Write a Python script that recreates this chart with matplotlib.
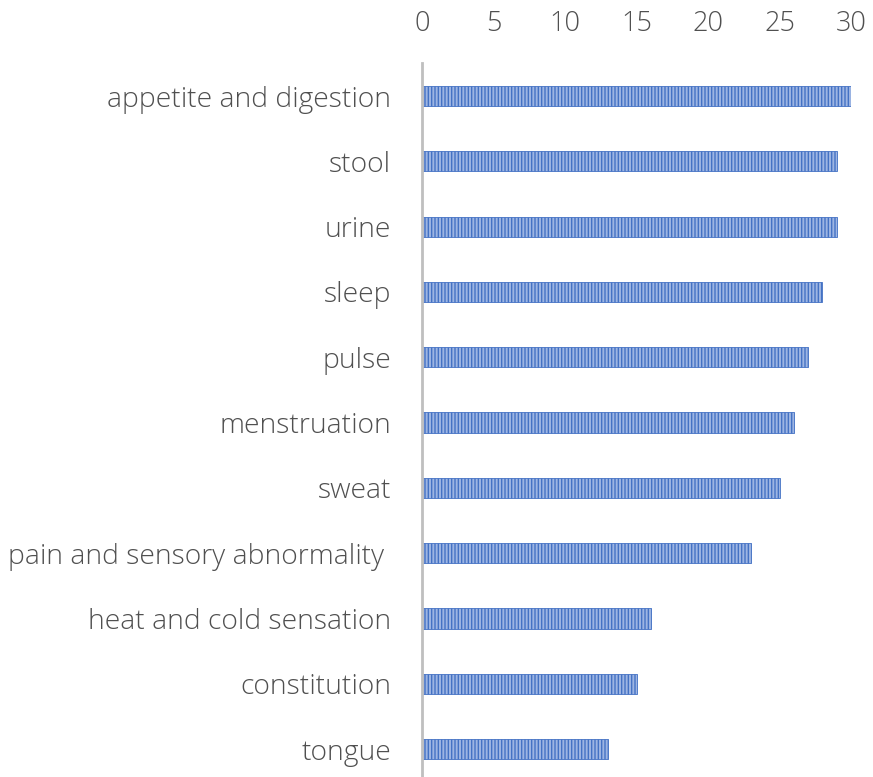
import matplotlib.pyplot as plt
import numpy as np

# categories listed top to bottom as in the chart
categories = ['appetite and digestion', 'stool', 'urine', 'sleep', 'pulse',
              'menstruation', 'sweat', 'pain and sensory abnormality ',
              'heat and cold sensation', 'constitution', 'tongue']
counts = [30, 29, 29, 28, 27, 26, 25, 23, 16, 15, 13]
x_ticks = [0, 5, 10, 15, 20, 25, 30]

plt.rcParams['font.family'] = ['Open Sans', 'DejaVu Sans']
plt.rcParams['font.weight'] = 'light'
plt.rcParams['hatch.linewidth'] = 1.0
plt.rcParams['hatch.color'] = '#4472C4'

fig = plt.figure(figsize=(8.73, 7.77), dpi=100)
ax = fig.add_axes([0.4834, -0.006, 0.4914, 0.9244])

y = np.arange(len(categories))
ax.barh(y, counts, height=0.31, color='#9DB5E3', edgecolor='#4472C4',
        hatch='|||||', linewidth=0.6)

ax.set_ylim(len(categories) - 0.5, -0.5)
ax.set_xlim(0, 30)
ax.set_yticks(y)
ax.set_yticklabels(categories, fontsize=20.3, color='#505050')
ax.set_xticks(x_ticks)
ax.set_xticklabels([str(t) for t in x_ticks], fontsize=19.5, color='#505050')
ax.xaxis.tick_top()
ax.tick_params(axis='x', length=0, pad=18)
ax.tick_params(axis='y', length=0, pad=22)

for side in ['top', 'right', 'bottom']:
    ax.spines[side].set_visible(False)
ax.spines['left'].set_color('#BFBFBF')
ax.spines['left'].set_linewidth(2)

fig.savefig('out.png', dpi=100)
